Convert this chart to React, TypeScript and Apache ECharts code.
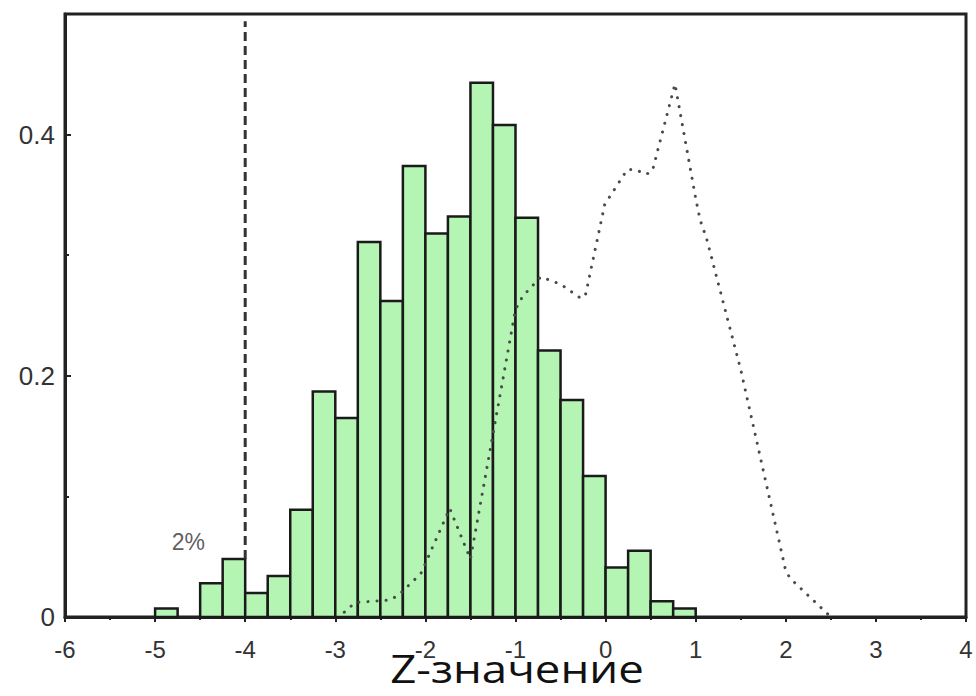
import React, { useEffect, useRef } from "react";
import * as echarts from "echarts";

const binStarts = [-5, -4.5, -4.25, -4, -3.75, -3.5, -3.25, -3, -2.75, -2.5, -2.25, -2, -1.75, -1.5, -1.25, -1, -0.75, -0.5, -0.25, 0, 0.25, 0.5, 0.75];
const binValues = [0.007, 0.028, 0.048, 0.020, 0.034, 0.089, 0.187, 0.165, 0.311, 0.262, 0.374, 0.318, 0.332, 0.443, 0.408, 0.331, 0.221, 0.180, 0.117, 0.041, 0.055, 0.013, 0.007];
const binWidth = 0.25;

const curveX = [-2.9, -2.78, -2.4, -2.3, -2.05, -1.73, -1.5, -1.0, -0.92, -0.72, -0.5, -0.27, -0.22, -0.01, 0.24, 0.33, 0.45, 0.52, 0.77, 1.0, 1.05, 1.12, 1.5, 2.0, 2.05, 2.5];
const curveY = [0.004, 0.012, 0.014, 0.018, 0.036, 0.09, 0.048, 0.255, 0.266, 0.282, 0.276, 0.264, 0.268, 0.342, 0.371, 0.371, 0.367, 0.37, 0.442, 0.347, 0.329, 0.314, 0.205, 0.038, 0.032, 0.0];

const thresholdX = -4;
const thresholdY = [0.048, 0.494];
const noteText = "2%";
const notePos = [-4.63, 0.062];

const xTicks = { min: -6, max: 4, interval: 1 };
const yTicks = { min: 0, max: 0.5, interval: 0.2 };
const xTitle = "Z-значение";

export default function App() {
  const ref = useRef<HTMLDivElement>(null);
  useEffect(() => {
    if (!ref.current) return;
    const chart = echarts.init(ref.current, null, { renderer: "svg" });
    const barData = binStarts.map((s, i) => [s, s + binWidth, binValues[i]]);
    chart.setOption({
      animation: false,
      backgroundColor: "#ffffff",
      grid: { left: 65, right: 10, top: 14, bottom: 79, show: true, borderColor: "#222", borderWidth: 3, backgroundColor: "transparent" },
      graphic: [
        {
          type: "text",
          x: 517,
          y: 668,
          scaleX: 1.2,
          style: {
            text: xTitle,
            fontFamily: "Open Sans",
            fontSize: 38,
            fill: "#111",
            textAlign: "center",
            textVerticalAlign: "middle",
          },
        },
      ],
      xAxis: {
        type: "value",
        min: xTicks.min,
        max: xTicks.max,
        interval: xTicks.interval,
        axisLine: { show: true, onZero: false, lineStyle: { color: "#222", width: 3 } },
        axisTick: { show: true, inside: false, length: 5, lineStyle: { color: "#222", width: 2 } },
        minorTick: { show: true, splitNumber: 2, length: 3, lineStyle: { color: "#222", width: 2 } },
        axisLabel: { fontFamily: "Liberation Sans", fontSize: 24, lineHeight: 22, color: "#333", margin: 21 },
        splitLine: { show: false },
      },
      yAxis: {
        type: "value",
        min: yTicks.min,
        max: yTicks.max,
        interval: yTicks.interval,
        axisLine: { show: true, onZero: false, lineStyle: { color: "#222", width: 3 } },
        axisTick: { show: true, inside: true, length: 6, lineStyle: { color: "#222", width: 2 } },
        minorTick: { show: true, splitNumber: 2, length: 4, lineStyle: { color: "#222", width: 2 } },
        axisLabel: { fontFamily: "Liberation Sans", fontSize: 26, color: "#333", margin: 10, showMaxLabel: false },
        splitLine: { show: false },
      },
      series: [
        {
          type: "custom",
          data: barData,
          encode: { x: [0, 1], y: 2 },
          renderItem: (params: any, api: any) => {
            const x0 = api.value(0);
            const x1 = api.value(1);
            const v = api.value(2);
            const p0 = api.coord([x0, v]);
            const p1 = api.coord([x1, 0]);
            return {
              type: "rect",
              shape: { x: p0[0], y: p0[1], width: p1[0] - p0[0], height: p1[1] - p0[1] },
              style: { fill: "#b4f5b4", stroke: "#1a1a1a", lineWidth: 2.5 },
            };
          },
          z: 2,
        },
        {
          type: "line",
          data: curveX.map((x, i) => [x, curveY[i]]),
          showSymbol: false,
          symbol: "none",
          lineStyle: { color: "#4a4a4a", width: 3, type: [0.1, 9], cap: "round" },
          z: 3,
        },
        {
          type: "line",
          data: [[thresholdX, thresholdY[0]], [thresholdX, thresholdY[1]]],
          showSymbol: false,
          symbol: "none",
          lineStyle: { color: "#333", width: 3, type: [9, 5] },
          z: 3,
        },
        {
          type: "scatter",
          data: [notePos],
          symbolSize: 0,
          label: { show: true, formatter: noteText, position: "inside", fontFamily: "Liberation Sans", fontSize: 23, color: "#333" },
          z: 4,
        },
      ],
    });
    return () => chart.dispose();
  }, []);
  return <div ref={ref} style={{ width: 976, height: 696, position: "absolute", left: 0, top: 0 }} />;
}
